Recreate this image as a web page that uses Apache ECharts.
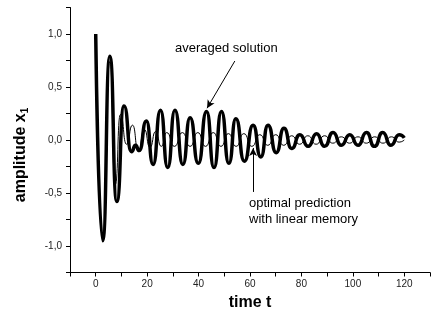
<!DOCTYPE html>
<html><head><meta charset="utf-8">
<script src="https://cdn.jsdelivr.net/npm/echarts@6/dist/echarts.min.js"></script>
<style>html,body{margin:0;padding:0;background:#fff}#c{width:433px;height:323px}</style>
</head><body><div id="c"></div>
<script>
// averaged solution (thick curve): extrema
const averagedT = [0, 2.7, 5.5, 8.2, 11.0, 13.9, 15.5, 16.9, 19.7, 22.3, 25.2, 28.0, 30.8, 33.9, 36.7, 39.9, 43.1, 46.0, 48.9, 51.8, 54.5, 57.8, 61.2, 64.2, 67.0, 70.2, 73.2, 76.2, 79.4, 82.6, 85.9, 89.0, 92.3, 95.5, 98.8, 102.0, 105.3, 108.4, 111.6, 114.8, 118.0, 120.0];
const averagedV = [1.0, -0.95, 0.79, -0.58, 0.32, -0.11, -0.05, -0.1, 0.18, -0.23, 0.28, -0.26, 0.28, -0.23, 0.21, -0.22, 0.27, -0.26, 0.27, -0.22, 0.2, -0.2, 0.14, -0.16, 0.14, -0.12, 0.11, -0.08, 0.05, -0.06, 0.06, -0.06, 0.07, -0.05, 0.05, -0.05, 0.07, -0.06, 0.07, -0.05, 0.05, 0.02];
// optimal prediction with linear memory (thin curve)
const predictionT = [0, 2.7, 5.5, 7.6, 9.6, 12.0, 14.3, 16.6, 18.9, 21.1, 23.3, 25.5, 27.6, 30.6, 33.7, 36.7, 39.7, 42.7, 45.7, 48.7, 51.6, 54.6, 57.6, 60.7, 63.8, 66.9, 70.0, 73.1, 76.2, 79.3, 82.5, 85.7, 89.0, 92.2, 95.5, 98.7, 102.0, 105.2, 108.5, 111.7, 115.0, 118.0, 120.0];
const predictionV = [1.0, -0.93, 0.74, -0.42, 0.24, -0.04, 0.14, -0.1, 0.1, -0.07, 0.08, -0.06, 0.07, -0.06, 0.07, -0.06, 0.07, -0.06, 0.07, -0.06, 0.06, -0.06, 0.06, -0.06, 0.05, -0.05, 0.05, -0.05, 0.04, -0.04, 0.04, -0.04, 0.04, -0.03, 0.03, -0.03, 0.03, -0.03, 0.03, -0.03, 0.03, -0.02, 0.0];
// tick labels
const xTickLabels = [0, 20, 40, 60, 80, 100, 120];
const yTickLabels = ['-1,0', '-0,5', '0,0', '0,5', '1,0'];
const yTickValues = [-1.0, -0.5, 0.0, 0.5, 1.0];
// annotation arrows (data coordinates: [t, amplitude])
const arrowAveraged = [[54.1, 0.745], [43.3, 0.30]];
const arrowPrediction = [[61.2, -0.49], [61.2, -0.075]];

const FONT = "'Liberation Sans', Arial, sans-serif";
const chart = echarts.init(document.getElementById('c'), null, {renderer: 'canvas'});
const pair = (ts, vs) => ts.map((t, i) => [t, vs[i]]);
const arrowLine = a => [{coord: a[0], symbol: 'none'}, {coord: a[1], symbol: 'arrow'}];

chart.setOption({
  animation: false,
  backgroundColor: '#fff',
  grid: {left: 70, right: 3, top: 7.5, bottom: 50.5, containLabel: false},
  xAxis: {
    type: 'value', min: -10, max: 130, interval: 10,
    name: 'time t', nameLocation: 'middle', nameGap: 20,
    nameTextStyle: {fontFamily: FONT, fontSize: 16, fontWeight: 'bold', color: '#000'},
    axisLine: {show: true, onZero: false, lineStyle: {color: '#000', width: 1}},
    axisTick: {show: true, inside: false, length: 4, lineStyle: {color: '#000'}},
    axisLabel: {
      fontFamily: FONT, fontSize: 10, color: '#222', margin: 7,
      formatter: v => (xTickLabels.indexOf(v) >= 0 ? String(v) : '')
    },
    splitLine: {show: false}
  },
  yAxis: {
    type: 'value', min: -1.25, max: 1.25, interval: 0.25,
    name: '{a|amplitude x}{s|1}', nameLocation: 'middle', nameGap: 40,
    nameTextStyle: {
      fontFamily: FONT, color: '#000', padding: [0, 30, 0, 0],
      rich: {
        a: {fontFamily: FONT, fontSize: 16, fontWeight: 'bold', color: '#000', lineHeight: 18},
        s: {fontFamily: FONT, fontSize: 10, fontWeight: 'bold', color: '#000', lineHeight: 10, verticalAlign: 'bottom'}
      }
    },
    axisLine: {show: true, onZero: false, lineStyle: {color: '#000', width: 1}},
    axisTick: {show: true, inside: false, length: 4, lineStyle: {color: '#000'}},
    axisLabel: {
      fontFamily: FONT, fontSize: 10, color: '#222', margin: 8,
      formatter: v => {
        const i = yTickValues.findIndex(y => Math.abs(y - v) < 1e-6);
        return i >= 0 ? yTickLabels[i] : '';
      }
    },
    splitLine: {show: false}
  },
  series: [
    {
      name: 'averaged solution', type: 'line', data: pair(averagedT, averagedV),
      showSymbol: false, smooth: 0.6, smoothMonotone: 'x',
      lineStyle: {color: '#000', width: 3.5}, z: 2,
      markLine: {
        silent: true, symbolSize: [6, 8], label: {show: false},
        lineStyle: {color: '#000', width: 1, type: 'solid'},
        data: [arrowLine(arrowAveraged), arrowLine(arrowPrediction)]
      }
    },
    {
      name: 'optimal prediction with linear memory', type: 'line', data: pair(predictionT, predictionV),
      showSymbol: false, smooth: 0.6, smoothMonotone: 'x',
      lineStyle: {color: '#000', width: 1}, z: 3
    }
  ],
  graphic: [
    {type: 'text', left: 175, top: 42, style: {text: 'averaged solution', font: '13px ' + FONT, fill: '#000'}},
    {type: 'text', left: 249, top: 195, style: {text: 'optimal prediction\nwith linear memory', font: '13px ' + FONT, fill: '#000', lineHeight: 16.5}}
  ]
});
</script></body></html>
